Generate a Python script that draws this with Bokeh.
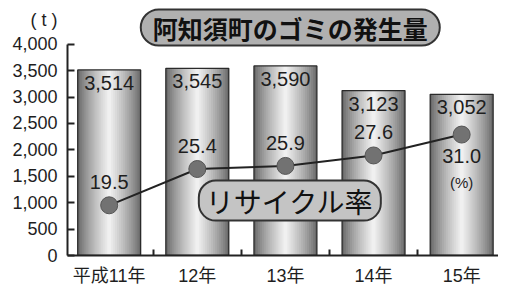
from bokeh.plotting import figure
from bokeh.models import (Range1d, FixedTicker, NumeralTickFormatter, Label,
                          ColumnDataSource, LinearAxis)
from bokeh.core.properties import value
from bokeh.embed import file_html
from bokeh.resources import INLINE

# ---- data ----
years = ["平成11年", "12年", "13年", "14年", "15年"]
garbage_t = [3514, 3545, 3590, 3123, 3052]
recycle_pct = [19.5, 25.4, 25.9, 27.6, 31.0]
y_ticks = [0, 500, 1000, 1500, 2000, 2500, 3000, 3500, 4000]
unit_label = "( t )"
unit_pos = 4460
title_text = "阿知須町のゴミの発生量"
line_title = "リサイクル率"

xs = list(range(1, len(years) + 1))
JP = "Noto Sans CJK JP"
NUM = "Liberation Sans"
TXT = "#1e1e1e"
Y_MAX = 4000

p = figure(width=498, height=288, output_backend="svg", toolbar_location=None,
           x_range=Range1d(0.527, 5.418), y_range=Range1d(0, 4829),
           y_axis_location=None,
           min_border_left=67, min_border_top=0, min_border_bottom=0, min_border_right=0)
p.extra_y_ranges = {"rate": Range1d(11.34, 52.79)}
p.grid.visible = False
p.outline_line_color = None
p.background_fill_color = "white"
p.border_fill_color = "white"

# y axis line + inward ticks (labels not drawn)
ax_line = LinearAxis(bounds=(0, Y_MAX), ticker=FixedTicker(ticks=y_ticks),
                     major_label_text_font_size="1px", major_label_text_color=None,
                     major_label_standoff=0,
                     axis_line_width=2, axis_line_color="#222",
                     major_tick_in=7, major_tick_out=0, major_tick_line_width=2,
                     major_tick_line_color="#222", minor_tick_line_color=None)
p.add_layout(ax_line, "left")
# y axis labels (incl. unit)
ax_lab = LinearAxis(ticker=FixedTicker(ticks=y_ticks + [unit_pos]),
                    formatter=NumeralTickFormatter(format="0,0"),
                    major_label_overrides={unit_pos: unit_label},
                    major_label_text_font=NUM, major_label_text_font_size="18px",
                    major_label_text_color=TXT, major_label_standoff=4,
                    axis_line_color=None, major_tick_line_color=None,
                    minor_tick_line_color=None)
p.add_layout(ax_lab, "left")

xax = p.xaxis[0]
xax.ticker = FixedTicker(ticks=xs, minor_ticks=[1.5, 2.5, 3.5, 4.5])
xax.major_label_overrides = {i: years[i - 1] for i in xs}
xax.major_label_text_font = "Liberation Sans, 'Noto Sans CJK JP'"
xax.major_label_text_font_size = "18px"
xax.major_label_text_color = TXT
xax.axis_line_width = 2
xax.axis_line_color = "#222"
xax.major_tick_line_color = None
xax.minor_tick_in = 6
xax.minor_tick_out = 0
xax.minor_tick_line_width = 2
xax.minor_tick_line_color = "#222"
xax.major_label_standoff = 4

# bars with cylinder-like gradient (layers of narrowing bars)
src = ColumnDataSource(dict(x=xs, top=garbage_t, rate=recycle_pct,
                            tlab=[f"{v:,}" for v in garbage_t]))
W = 0.714
n = 16
for i in range(n):
    t = i / (n - 1)
    v = int(0x6a + (0xf0 - 0x6a) * (t ** 0.8))
    col = "#%02x%02x%02x" % (v, v, v)
    p.vbar(x="x", top="top", width=W * (1 - i / n), bottom=0, source=src,
           fill_color=col, line_color=None)
p.vbar(x="x", top="top", width=W, bottom=0, source=src,
       fill_color=None, line_color="#2a2a2a", line_width=1.3)

# bar value labels
p.text(x="x", y="top", text="tlab", source=src,
       text_font=value(NUM), text_font_size="20px", text_color=TXT,
       text_align="center", text_baseline="top", y_offset=6)

# recycling line
p.line(x="x", y="rate", source=src, y_range_name="rate", line_color="#222", line_width=2)
p.scatter(x="x", y="rate", source=src, y_range_name="rate", size=17,
          fill_color="#727272", line_color="#555")

lab = [f"{v:.1f}" for v in recycle_pct]
p.text(x=xs[:-1], y=recycle_pct[:-1], text=lab[:-1], y_range_name="rate",
       text_font=value(NUM), text_font_size="20px", text_color=TXT,
       text_align="center", text_baseline="middle", y_offset=-23)
p.text(x=xs[-1:], y=recycle_pct[-1:], text=lab[-1:], y_range_name="rate",
       text_font=value(NUM), text_font_size="20px", text_color=TXT,
       text_align="center", text_baseline="middle", y_offset=21)
p.text(x=xs[-1:], y=recycle_pct[-1:], text=["(%)"], y_range_name="rate",
       text_font=value(NUM), text_font_size="15px", text_color=TXT,
       text_align="center", text_baseline="middle", y_offset=48)

# title bubble
p.add_layout(Label(x=3.055, y=4317, text=title_text, text_font=JP, text_font_size="25px",
                   text_font_style="bold", text_color="#111", text_align="center",
                   text_baseline="middle", background_fill_color="#b0b0b0",
                   border_line_color="#333", border_line_width=2,
                   padding=dict(left=12, right=12, top=0, bottom=0), border_radius=18))
# series bubble
p.add_layout(Label(x=3.05, y=1040, text=line_title, text_font=JP, text_font_size="28px",
                   text_color="#111", text_align="center", text_baseline="middle",
                   background_fill_color="#c4c4c4", border_line_color="#333",
                   border_line_width=2, padding=dict(left=7, right=7, top=0, bottom=0),
                   border_radius=17))

open("out.html", "w").write(file_html(p, INLINE))
